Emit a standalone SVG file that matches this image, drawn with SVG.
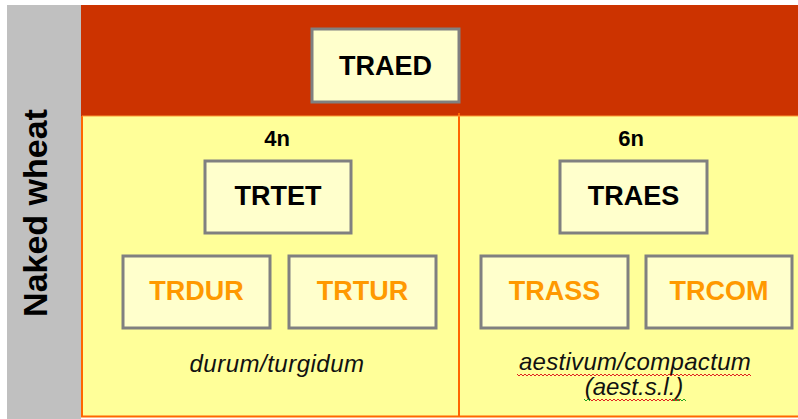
<svg xmlns="http://www.w3.org/2000/svg" width="798" height="419" viewBox="0 0 798 419">
<style>
.box{fill:#FFFFCC;stroke:#808080;stroke-width:3}
.lbl{font-family:"Liberation Sans",Arial,sans-serif;font-weight:bold;text-anchor:middle}
.blk{fill:#000;font-size:27px}
.org{fill:#FF9900;font-size:27px}
.ploid{font-family:"Liberation Sans",Arial,sans-serif;font-weight:bold;font-size:22px;text-anchor:middle;fill:#000}
.it{font-family:"Liberation Sans",Arial,sans-serif;font-style:italic;font-size:24px;text-anchor:middle;fill:#111}
.sq{fill:none;stroke-width:1}
</style>
<rect x="0" y="0" width="798" height="419" fill="#FFFFFF"/>
<g id="background">
<rect x="7" y="5" width="74" height="414" fill="#C0C0C0"/>
<rect x="81" y="5" width="717" height="111" fill="#CC3300"/>
<rect x="82" y="116" width="716" height="301" fill="#FFFF99"/>
<line x1="82" y1="116" x2="82" y2="417" stroke="#FF6600" stroke-width="2"/>
<line x1="81" y1="416.5" x2="798" y2="416.5" stroke="#FF6600" stroke-width="2"/>
<line x1="459" y1="113" x2="459" y2="417" stroke="#FF6600" stroke-width="2"/>
<line x1="82" y1="116" x2="798" y2="116" stroke="#FF9933" stroke-width="1"/>
</g>
<g id="side-label">
<text class="lbl" transform="translate(47,213) rotate(-90)" style="font-size:34px;fill:#000">Naked wheat</text>
</g>
<g id="connectors"></g>
<g id="TRAED"><rect class="box" x="312" y="29" width="147" height="73"/><text class="lbl blk" x="385.5" y="75">TRAED</text></g>
<text class="ploid" x="277" y="146">4n</text>
<text class="ploid" x="631" y="146">6n</text>
<g id="TRTET"><rect class="box" x="205" y="161" width="146" height="72"/><text class="lbl blk" x="278" y="205">TRTET</text></g>
<g id="TRAES"><rect class="box" x="560" y="161" width="147" height="72"/><text class="lbl blk" x="633.5" y="205">TRAES</text></g>
<g id="TRDUR"><rect class="box" x="123" y="256" width="147" height="72"/><text class="lbl org" x="196.5" y="300">TRDUR</text></g>
<g id="TRTUR"><rect class="box" x="289" y="256" width="147" height="72"/><text class="lbl org" x="362.5" y="300">TRTUR</text></g>
<g id="TRASS"><rect class="box" x="481" y="256" width="147" height="72"/><text class="lbl org" x="554.5" y="300">TRASS</text></g>
<g id="TRCOM"><rect class="box" x="646" y="256" width="146" height="72"/><text class="lbl org" x="719" y="300">TRCOM</text></g>
<text class="it" x="277" y="372" letter-spacing="0.5">durum/turgidum</text>
<text class="it" x="635" y="370" letter-spacing="0.3">aestivum/compactum</text>
<text class="it" x="634" y="395">(aest.s.l.)</text>
<path class="sq" stroke="#E02020" d="M517 374 l2 2 l2 -2 l2 2 l2 -2 l2 2 l2 -2 l2 2 l2 -2 l2 2 l2 -2 l2 2 l2 -2 l2 2 l2 -2 l2 2 l2 -2 l2 2 l2 -2 l2 2 l2 -2 l2 2 l2 -2 l2 2 l2 -2 l2 2 l2 -2 l2 2 l2 -2 l2 2 l2 -2 l2 2 l2 -2 l2 2 l2 -2 l2 2 l2 -2 l2 2 l2 -2 l2 2 l2 -2 l2 2 l2 -2 l2 2 l2 -2 l2 2 l2 -2 l2 2 l2 -2 l2 2 l2 -2 l2 2 l2 -2 l2 2 l2 -2 l2 2 l2 -2 l2 2 l2 -2 l2 2 l2 -2 l2 2 l2 -2 l2 2 l2 -2 l2 2 l2 -2 l2 2 l2 -2 l2 2 l2 -2 l2 2 l2 -2 l2 2 l2 -2 l2 2 l2 -2 l2 2 l2 -2 l2 2 l2 -2 l2 2 l2 -2 l2 2 l2 -2 l2 2 l2 -2 l2 2 l2 -2 l2 2 l2 -2 l2 2 l2 -2 l2 2 l2 -2 l2 2 l2 -2 l2 2 l2 -2 l2 2 l2 -2 l2 2 l2 -2 l2 2 l2 -2 l2 2 l2 -2 l2 2 l2 -2 l2 2 l2 -2 l2 2 l2 -2 l2 2 l2 -2 l2 2 l2 -2 l2 2"/>
<path class="sq" stroke="#20A020" d="M584 399 l2 2 l2 -2 l2 2"/>
<path class="sq" stroke="#E02020" d="M590 399 l2 2 l2 -2 l2 2 l2 -2 l2 2 l2 -2 l2 2 l2 -2 l2 2 l2 -2 l2 2 l2 -2 l2 2 l2 -2 l2 2 l2 -2 l2 2 l2 -2 l2 2 l2 -2 l2 2 l2 -2 l2 2 l2 -2 l2 2 l2 -2 l2 2 l2 -2 l2 2 l2 -2 l2 2 l2 -2 l2 2 l2 -2 l2 2 l2 -2 l2 2 l2 -2 l2 2 l2 -2 l2 2 l2 -2 l2 2 l2 -2 l2 2"/>
<path class="sq" stroke="#20A020" d="M672 399 l2 2 l2 -2 l2 2 l2 -2 l2 2 l2 -2 l2 2"/>
</svg>
